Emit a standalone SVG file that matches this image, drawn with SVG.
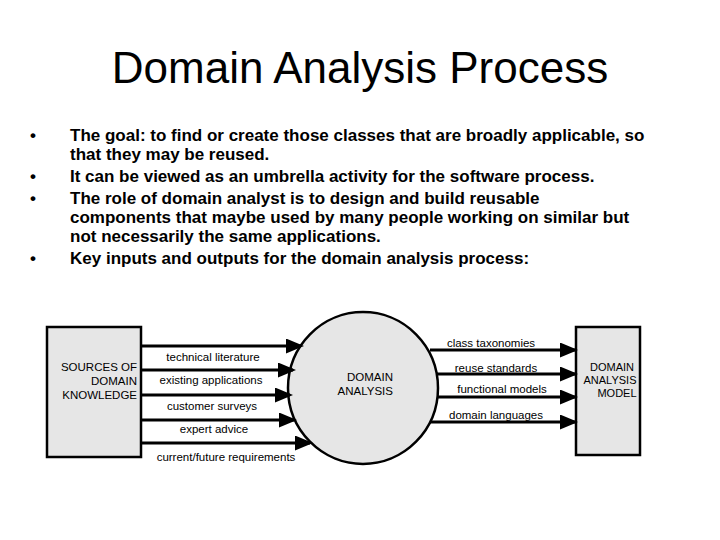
<svg xmlns="http://www.w3.org/2000/svg" width="720" height="540" viewBox="0 0 720 540">
<style>
.b{font-family:"Liberation Sans",Arial,sans-serif;font-weight:bold;font-size:17px;fill:#000}
.l{font-family:"Liberation Sans",Arial,sans-serif;font-size:11.5px;fill:#000}
.box{fill:#e6e6e6;stroke:#000;stroke-width:2.5}
.c line{stroke:#000;stroke-width:3;marker-end:url(#a)}
</style>
<defs><marker id="a" markerWidth="6" markerHeight="5" refX="5" refY="2.5" orient="auto" markerUnits="strokeWidth"><path d="M0,0L6,2.5L0,5z"/></marker></defs>
<rect width="720" height="540" fill="#fff"/>
<text x="360" y="83" text-anchor="middle" font-family="Liberation Sans,Arial,sans-serif" font-size="44">Domain Analysis Process</text>
<g class="b">
<text x="30" y="141">•</text><text x="70" y="141">The goal: to find or create those classes that are broadly applicable, so</text>
<text x="70" y="160">that they may be reused.</text>
<text x="30" y="182">•</text><text x="70" y="182"> It can be viewed as an umbrella activity for the software process.</text>
<text x="30" y="204">•</text><text x="70" y="204">The role of domain analyst is to design and build reusable</text>
<text x="70" y="223">components that maybe used by many people working on similar but</text>
<text x="70" y="242">not necessarily the same applications.</text>
<text x="30" y="264">•</text><text x="70" y="264">Key inputs and outputs for the domain analysis process:</text>
</g>
<g id="sources"><rect class="box" x="47" y="327" width="94" height="130"/>
<text class="l" text-anchor="end" x="137" y="371">SOURCES OF</text><text class="l" text-anchor="end" x="137" y="385">DOMAIN</text><text class="l" text-anchor="end" x="137" y="399">KNOWLEDGE</text></g>
<g id="analysis"><ellipse class="box" cx="363" cy="388" rx="75" ry="76"/>
<text class="l" text-anchor="end" x="393" y="381">DOMAIN</text><text class="l" text-anchor="end" x="393" y="395">ANALYSIS</text></g>
<g id="model"><rect class="box" x="576" y="327" width="64" height="128"/>
<g class="l" text-anchor="middle" style="font-size:11px"><text x="612" y="371">DOMAIN</text><text x="610" y="384">ANALYSIS</text><text x="617" y="397">MODEL</text></g></g>
<g class="c">
<line x1="141" y1="346" x2="301" y2="346"/>
<line x1="141" y1="370" x2="293" y2="370"/>
<line x1="141" y1="395" x2="290" y2="395"/>
<line x1="141" y1="420" x2="294" y2="420"/>
<line x1="141" y1="443" x2="310" y2="443"/>
<line x1="430" y1="350" x2="575" y2="350"/>
<line x1="437" y1="374" x2="575" y2="374"/>
<line x1="437" y1="397" x2="575" y2="397"/>
<line x1="430" y1="422" x2="575" y2="422"/>
</g>
<g class="l" text-anchor="middle">
<text x="213" y="361">technical literature</text>
<text x="211" y="384">existing applications</text>
<text x="212" y="410">customer surveys</text>
<text x="214" y="433">expert advice</text>
<text x="226" y="461">current/future requirements</text>
<text x="491" y="347">class taxonomies</text>
<text x="496" y="372">reuse standards</text>
<text x="502" y="393">functional models</text>
<text x="496" y="419">domain languages</text>
</g>
</svg>
